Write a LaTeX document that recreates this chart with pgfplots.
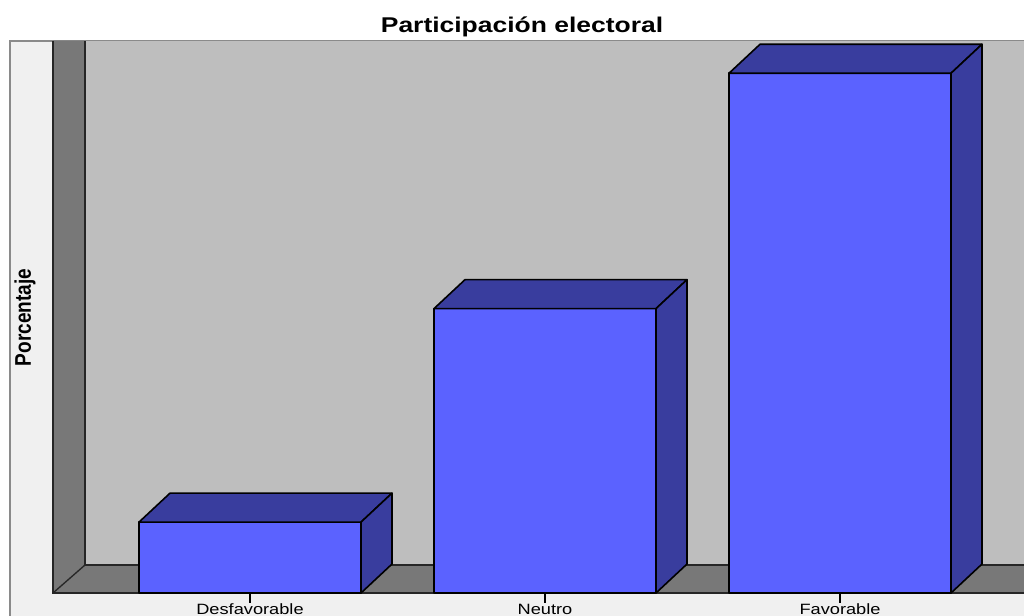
\documentclass[border=0pt]{standalone}
\usepackage{fontspec}
\setmainfont{Liberation Sans}
\usepackage{pgfplots}
\pgfplotsset{compat=1.18}
\definecolor{panel}{HTML}{F0F0F0}
\definecolor{wall}{HTML}{BEBEBE}
\definecolor{side}{HTML}{787878}
\definecolor{front}{HTML}{5B62FF}
\definecolor{shade}{HTML}{393D9E}
\definecolor{frame}{HTML}{8A8A8A}
% One bar: front rectangle, then top and right side with the same depth
\newcommand{\barfaces}[3]{%
  \addplot[fill=front, draw=black, line width=1.2pt, line join=round] coordinates {(#1,0) (#2,0) (#2,#3) (#1,#3)} --cycle;
  \pgfmathsetmacro{\xa}{#1+31}\pgfmathsetmacro{\xb}{#2+31}\pgfmathsetmacro{\yt}{#3+3.31}
  \addplot[fill=shade, draw=black, line width=1.2pt, line join=round] coordinates {(#1,#3) (\xa,\yt) (\xb,\yt) (#2,#3)} --cycle;
  \addplot[fill=shade, draw=black, line width=1.2pt, line join=round] coordinates {(#2,0) (\xb,3.31) (\xb,\yt) (#2,#3)} --cycle;
}
\begin{document}
\begin{tikzpicture}[x=1pt,y=1pt]
\clip (0,0) rectangle (768,462);
\begin{axis}[
  at={(0,17.25pt)}, anchor=south west,
  name=main,
  scale only axis, width=768pt, height=444.75pt,
  xmin=0, xmax=1024, ymin=0, ymax=67.771,
  clip=false,
  axis on top,
  axis line style={draw=none},
  ytick=\empty,
  xtick={250,545,840},
  xticklabels={Desfavorable,Neutro,Favorable},
  xtick pos=lower,
  tick align=outside,
  major tick length=7.2pt,
  tick style={black, line width=0.9pt},
  xticklabel style={font=\fontsize{11.2}{12}\selectfont, xscale=1.22, inner sep=0pt, anchor=base, yshift=-9pt},
]
  % chart panel
  \fill[panel] (axis cs:10,-2.7) rectangle (axis cs:1024,63.09);
  \draw[frame, line width=1pt] (axis cs:10,-2.7) -- (axis cs:10,63.09) -- (axis cs:1024,63.09);
  % back wall, left wall and floor
  \fill[wall] (axis cs:85,3.2) rectangle (axis cs:1024,63.09);
  \fill[side] (axis cs:53,0) -- (axis cs:85,3.2) -- (axis cs:85,63.09) -- (axis cs:53,63.09) -- cycle;
  \fill[side] (axis cs:53,0) -- (axis cs:85,3.2) -- (axis cs:1024,3.2) -- (axis cs:1024,0) -- cycle;
  \draw[black!85, line width=1pt] (axis cs:53,63.09) -- (axis cs:53,0) -- (axis cs:1024,0);
  \draw[black!85, line width=1pt] (axis cs:85,63.09) -- (axis cs:85,3.2) -- (axis cs:1024,3.2);
  \draw[black!85, line width=1pt] (axis cs:53,0) -- (axis cs:85,3.2);
  % bars: left edge, right edge, percentage
  \barfaces{139}{361}{8.1}
  \barfaces{434}{656}{32.5}
  \barfaces{729}{951}{59.4}
  % titles
  \node[font=\bfseries\fontsize{16}{18}\selectfont, xscale=1.24, inner sep=0pt] at (axis cs:522,64.65) {Participación electoral};
  \node[font=\bfseries\fontsize{17}{18}\selectfont, rotate=90, xscale=0.84, inner sep=0pt] at (axis cs:25,31.5) {Porcentaje};
\end{axis}
\end{tikzpicture}
\end{document}
